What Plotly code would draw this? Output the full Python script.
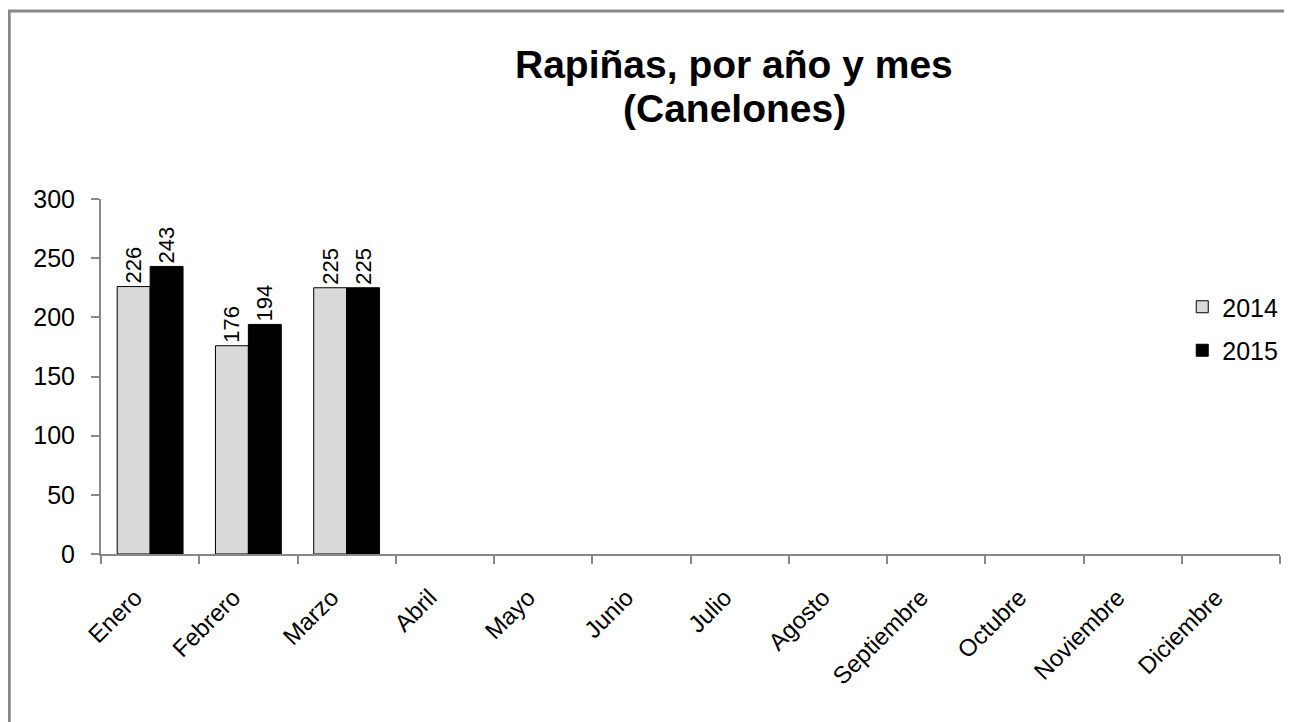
import plotly.graph_objects as go

months = ["Enero", "Febrero", "Marzo", "Abril", "Mayo", "Junio", "Julio",
          "Agosto", "Septiembre", "Octubre", "Noviembre", "Diciembre"]
values_2014 = [226, 176, 225, None, None, None, None, None, None, None, None, None]
values_2015 = [243, 194, 225, None, None, None, None, None, None, None, None, None]
title_lines = ["<b>Rapiñas, por año y mes</b>", "<b>(Canelones)</b>"]

OFF = 8  # page body margin
W, H = 1284, 714
ml, mr, mt, mb = 93, 9, 191, 168
pw, ph = W - ml - mr, H - mt - mb

def px(sx):
    return (sx - OFF - ml) / pw

def py(sy):
    return (H - mb - (sy - OFF)) / ph

font = "Liberation Sans, Arial, sans-serif"

fig = go.Figure()
for name, vals, color in [("2014", values_2014, "#d9d9d9"), ("2015", values_2015, "#000000")]:
    fig.add_trace(go.Bar(
        x=months, y=vals, name=name, legendgroup=name,
        marker=dict(color=color, line=dict(color="#000000", width=1)),
        text=[str(v) if v is not None else "" for v in vals],
        textposition="outside", textangle=-90, constraintext="none",
        textfont=dict(size=22, color="#000000", family=font),
        cliponaxis=False,
    ))

fig.update_layout(
    width=W, height=H,
    margin=dict(l=ml, r=mr, t=mt, b=mb),
    paper_bgcolor="white", plot_bgcolor="white",
    barmode="group", bargap=0.33, bargroupgap=0,
    font=dict(family=font, size=22, color="#000000"),
    showlegend=True,
    legend=dict(x=px(1185), y=py(284), xanchor="left", yanchor="top",
                font=dict(size=25, family=font), bgcolor="rgba(0,0,0,0)",
                traceorder="grouped", tracegroupgap=8),
    xaxis=dict(showline=True, linecolor="#888888", linewidth=2,
               ticks="outside", ticklen=8, tickcolor="#888888", tickwidth=2,
               tickson="boundaries", tickangle=-45,
               ticklabelstandoff=18, ticklabelshift=-15,
               tickfont=dict(size=24, family=font, color="#000000"),
               showgrid=False, zeroline=False, fixedrange=True),
    yaxis=dict(range=[0, 300], dtick=50, showline=True, linecolor="#888888", linewidth=2,
               ticks="outside", ticklen=8, tickcolor="#888888", tickwidth=2,
               ticklabelstandoff=11,
               tickfont=dict(size=25, family=font, color="#000000"),
               showgrid=False, zeroline=False),
)

for line, sy in zip(title_lines, [64, 109]):
    fig.add_annotation(text=line, xref="paper", yref="paper",
                       x=px(736), y=py(sy), xanchor="center", yanchor="middle",
                       showarrow=False, font=dict(size=39, family=font, color="#000000"))

fig.add_shape(type="rect", xref="paper", yref="paper",
              x0=px(9), x1=px(1400), y0=py(800), y1=py(11),
              line=dict(color="#888888", width=3), fillcolor="rgba(0,0,0,0)", layer="below")

fig.write_html("out.html")
